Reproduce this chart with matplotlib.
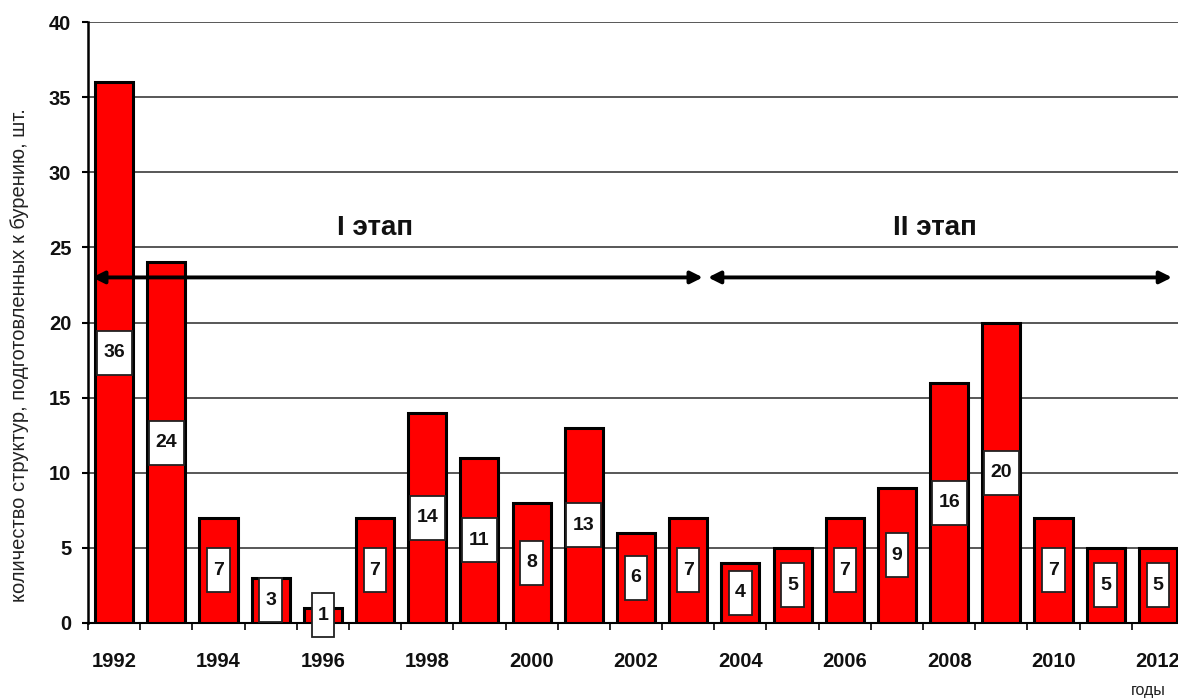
import matplotlib
matplotlib.use('Agg')
import matplotlib.pyplot as plt
from matplotlib.patches import Rectangle

# structures prepared for drilling, per year
years = list(range(1992, 2013))
counts = [36, 24, 7, 3, 1, 7, 14, 11, 8, 13, 6, 7, 4, 5, 7, 9, 16, 20, 7, 5, 5]
year_labels = [str(y) if y % 2 == 0 else '' for y in years]

# stages (arrows + captions)
stage_names = ['I этап', 'II этап']
stage_from = [1991.58, 2003.38]
stage_to = [2003.28, 2012.27]
stage_text_x = [1997.0, 2007.73]
stage_arrow_y = 23
stage_text_y = 26.3

ylabel = 'количество структур, подготовленных к бурению, шт.'
xlabel = 'годы'

plt.rcParams['font.family'] = ['Liberation Sans', 'DejaVu Sans']

fig = plt.figure(figsize=(11.78, 6.99), dpi=100)
ax = fig.add_axes([88 / 1178, 76 / 699, 1096 / 1178, 601 / 699])

ax.bar(years, counts, width=0.73, color='#ff0000', edgecolor='black',
       linewidth=2.2, zorder=3)

# value labels in white boxes in the middle of each bar
for x, v in zip(years, counts):
    txt = str(v)
    w = (10 + 12.5 * len(txt)) / 52.2
    h = 44 / 15.03
    ax.add_patch(Rectangle((x - w / 2, v / 2 - h / 2), w, h, facecolor='white',
                           edgecolor='#222222', linewidth=1.3, zorder=4,
                           clip_on=False))
    ax.text(x, v / 2, txt, ha='center', va='center', fontsize=14,
            fontweight='bold', color='#111111', zorder=5)

# stage arrows
for name, x0, x1, tx in zip(stage_names, stage_from, stage_to, stage_text_x):
    ax.annotate('', xy=(x1, stage_arrow_y), xytext=(x0, stage_arrow_y),
                arrowprops=dict(arrowstyle='<|-|>', color='black', lw=2.8,
                                mutation_scale=18, shrinkA=0, shrinkB=0),
                zorder=6)
    ax.text(tx, stage_text_y, name, ha='center', va='center', fontsize=20,
            fontweight='bold', color='#111111', zorder=6)

ax.set_xlim(1991.5, 2012.5)
ax.set_ylim(0, 40)
ax.set_yticks(range(0, 41, 5))
ax.set_xticks(years)
ax.set_xticklabels(year_labels)
ax.set_xticks([y + 0.5 for y in [years[0] - 1] + years], minor=True)

ax.tick_params(axis='y', direction='out', length=4, width=1.5, pad=8,
               labelsize=14.5, colors='black')
ax.tick_params(axis='x', which='major', length=0, pad=21, labelsize=14.5)
ax.tick_params(axis='x', which='minor', direction='out', length=5, width=1.2)
for lab in ax.get_xticklabels() + ax.get_yticklabels():
    lab.set_fontweight('bold')
    lab.set_color('#111111')

ax.yaxis.grid(True, color='#4a4a4a', linewidth=1.3)
ax.set_axisbelow(True)
for s in ['top', 'right']:
    ax.spines[s].set_visible(False)
ax.spines['left'].set_linewidth(1.8)
ax.spines['bottom'].set_linewidth(1.5)

fig.text(20 / 1178, 1 - 355 / 699, ylabel, rotation=90, ha='center',
         va='center', fontsize=14.5, color='#222222')
fig.text(1131 / 1178, 1 - 690 / 699, xlabel, ha='left', va='center',
         fontsize=11.5, color='#222222')

fig.savefig('out.png', dpi=100)
